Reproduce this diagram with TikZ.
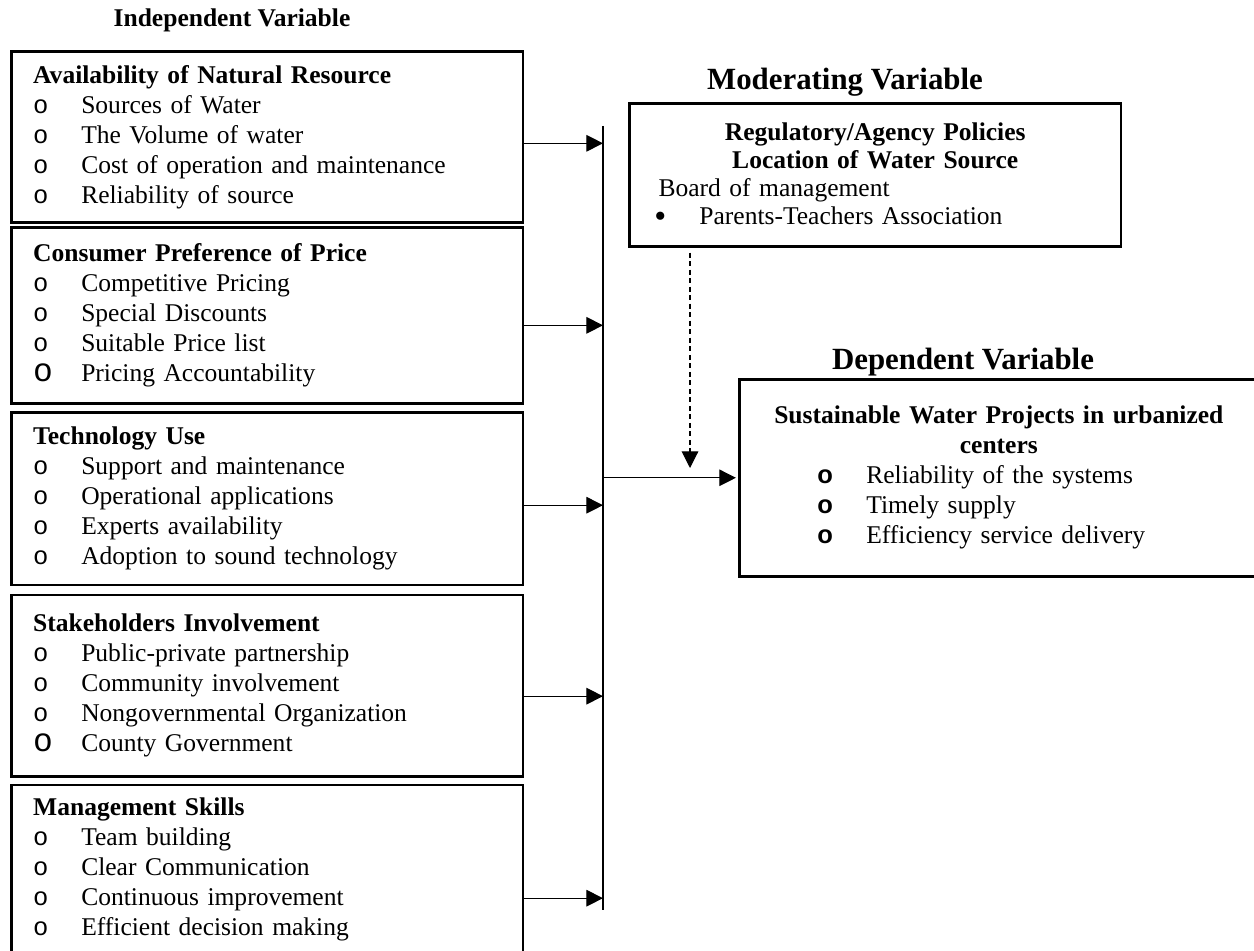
\documentclass[tikz,border=0pt]{standalone}
\usepackage{fontspec}
\setmainfont{Liberation Serif}
\setsansfont{Liberation Sans}
\setmonofont{Liberation Mono}
\usetikzlibrary{positioning, arrows.meta}

\newcommand{\ivitem}[1]{\\\makebox[22.6pt][l]{\ttfamily o}#1}
\newcommand{\ivitemO}[1]{\\\makebox[22.6pt][l]{\ttfamily\fontsize{15.5}{14.1}\selectfont o}#1}
\newcommand{\dvitem}[1]{\hspace*{32pt}\makebox[23pt][l]{\sffamily\bfseries o}#1}

\begin{document}
\begin{tikzpicture}[
  x=0.47pt, y=-0.47pt,
  every node/.style={font=\fontsize{12}{14.1}\selectfont},
  ivbox/.style={
    rectangle, draw, line width=1.2pt,
    text width=220pt, align=left,
    inner xsep=10.3pt, inner ysep=0pt,
    minimum width=240.6pt, minimum height=#1
  },
  modbox/.style={
    rectangle, draw, line width=1.2pt,
    text width=207.7pt, align=left,
    inner xsep=11.75pt, inner ysep=0pt,
    minimum width=231.2pt, minimum height=67.2pt,
    font=\fontsize{12}{13.2}\selectfont
  },
  depbox/.style={
    rectangle, draw, line width=1.2pt,
    text width=234.6pt, align=left,
    inner xsep=4.7pt, inner ysep=0pt,
    minimum width=244pt, minimum height=92.6pt
  },
  heading/.style={font=\fontsize{#1}{#1}\selectfont\bfseries, inner sep=0pt},
  arrow/.style={-{Triangle[length=7.8pt, width=7.8pt]}, line width=0.5pt}
]
\useasboundingbox (0,0) rectangle (1254,951);
\clip (0,0) rectangle (1254,951);

% ── Titles ────────────────────────────────────────────────────────────────────
\node[heading=12]   (ivtitle)  at (232,20)  {Independent Variable};
\node[heading=14.5] (modtitle) at (845,82)  {Moderating Variable};
\node[heading=14.5] (deptitle) at (963,362) {Dependent Variable};

% ── Independent variables ─────────────────────────────────────────────────────
\node[ivbox=80.4pt, anchor=north west] (natres) at (10,50)
  {\textbf{Availability of Natural Resource}
   \ivitem{Sources of Water}
   \ivitem{The Volume of water}
   \ivitem{Cost of operation and maintenance}
   \ivitem{Reliability of source}};

\node[ivbox=82.7pt, below=1.15pt of natres] (price)
  {\textbf{Consumer Preference of Price}
   \ivitem{Competitive Pricing}
   \ivitem{Special Discounts}
   \ivitem{Suitable Price list}
   \ivitemO{Pricing Accountability}};

\node[ivbox=81.3pt, below=3pt of price] (tech)
  {\textbf{Technology Use}
   \ivitem{Support and maintenance}
   \ivitem{Operational applications}
   \ivitem{Experts availability}
   \ivitem{Adoption to sound technology}};

\node[ivbox=85.1pt, below=3.5pt of tech] (stake)
  {\textbf{Stakeholders Involvement}
   \ivitem{Public-private partnership}
   \ivitem{Community involvement}
   \ivitem{Nongovernmental Organization}
   \ivitemO{County Government}};

\node[ivbox=82.7pt, below=3pt of stake] (mgmt)
  {\textbf{Management Skills}
   \ivitem{Team building}
   \ivitem{Clear Communication}
   \ivitem{Continuous improvement}
   \ivitem{Efficient decision making}\\[-8pt]\mbox{}};

% ── Moderating variable ───────────────────────────────────────────────────────
\node[modbox, anchor=north west] (mod) at (628,102)
  {{\centering\bfseries Regulatory/Agency Policies\\Location of Water Source\par}
   \hspace*{2pt}Board of management\\
   \makebox[21.2pt][l]{\raisebox{-1.2pt}{\fontsize{16}{13.2}\selectfont •}}Parents-Teachers Association};

% ── Dependent variable ────────────────────────────────────────────────────────
\node[depbox, anchor=north west] (dep) at (738,378)
  {{\centering\bfseries Sustainable Water Projects in urbanized\\centers\par}
   \dvitem{Reliability of the systems}\\
   \dvitem{Timely supply}\\
   \dvitem{Efficiency service delivery}};

% ── Connectors ────────────────────────────────────────────────────────────────
\coordinate (bustop) at (603,126);
\coordinate (busbot) at (603,910);
\draw[line width=0.5pt] (bustop) -- (busbot);

\coordinate (a1) at ([yshift=-3.05pt]natres.east);
\coordinate (a2) at ([yshift=-4.7pt]price.east);
\coordinate (a3) at ([yshift=-3.05pt]tech.east);
\coordinate (a4) at ([yshift=-4.9pt]stake.east);
\coordinate (a5) at ([yshift=-11.75pt]mgmt.east);
\foreach \a in {a1,a2,a3,a4,a5}
  \draw[arrow] (\a) -- (\a -| bustop);

\draw[arrow, shorten >=1pt] (dep.west -| bustop) -- (dep.west);

\coordinate (dashend) at (690,468);
\draw[arrow, dash pattern=on 2.4pt off 1.6pt, shorten <=2.4pt]
  (mod.south -| dashend) -- (dashend);

\end{tikzpicture}
\end{document}
